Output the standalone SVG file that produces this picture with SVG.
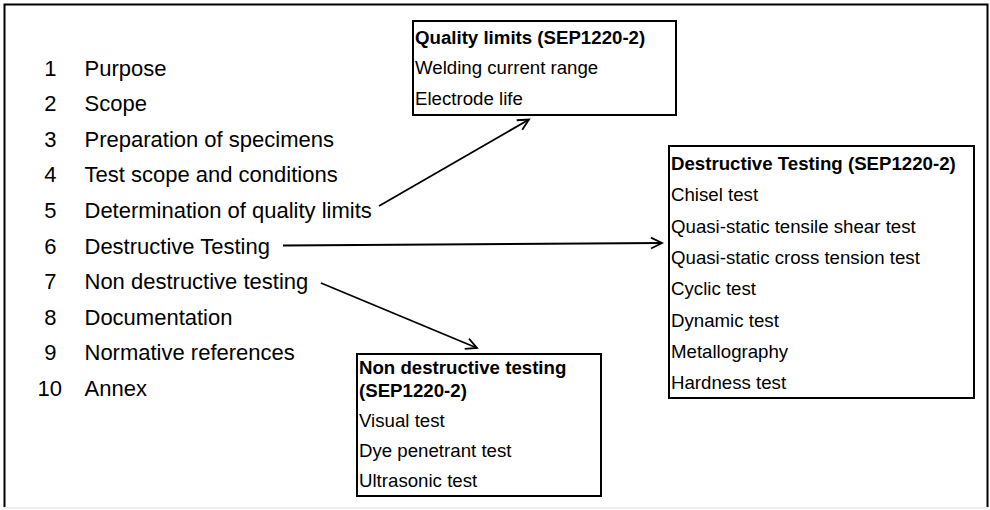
<svg xmlns="http://www.w3.org/2000/svg" width="990" height="510" viewBox="0 0 990 510">
<defs>
<style>
.lst{font-family:"Liberation Sans",Arial,sans-serif;font-size:22px;fill:#000}
.bx{font-family:"Liberation Sans",Arial,sans-serif;font-size:18.67px;fill:#000}
.bt{font-weight:bold}
.box{fill:#fff;stroke:#000;stroke-width:2}
.con{stroke:#000;stroke-width:1.8;fill:none;marker-end:url(#arr)}
</style>
<marker id="arr" markerWidth="16" markerHeight="14" refX="13" refY="7" orient="auto" markerUnits="userSpaceOnUse">
<path d="M2,1.5 L13,7 L2,12.5" fill="none" stroke="#000" stroke-width="1.8"/>
</marker>
</defs>
<rect width="990" height="510" fill="#fff"/>
<path d="M4.5,507 V4.5 H987.5 V507" fill="none" stroke="#000" stroke-width="2"/>
<line x1="4" y1="508" x2="988" y2="508" stroke="#ddd" stroke-width="1"/>

<g id="toc" class="lst">
<text x="44.3" y="75.5">1</text><text x="84.5" y="75.5">Purpose</text>
<text x="44.3" y="111.1">2</text><text x="84.5" y="111.1">Scope</text>
<text x="44.3" y="146.7">3</text><text x="84.5" y="146.7">Preparation of specimens</text>
<text x="44.3" y="182.3">4</text><text x="84.5" y="182.3">Test scope and conditions</text>
<text x="44.3" y="217.9">5</text><text x="84.5" y="217.9">Determination of quality limits</text>
<text x="44.3" y="253.5">6</text><text x="84.5" y="253.5">Destructive Testing</text>
<text x="44.3" y="289.1">7</text><text x="84.5" y="289.1">Non destructive testing</text>
<text x="44.3" y="324.7">8</text><text x="84.5" y="324.7">Documentation</text>
<text x="44.3" y="360.3">9</text><text x="84.5" y="360.3">Normative references</text>
<text x="37.5" y="395.9">10</text><text x="84.5" y="395.9">Annex</text>
</g>

<g id="quality">
<rect class="box" x="413" y="21" width="263" height="94"/>
<text class="bx bt" x="415" y="43.5">Quality limits (SEP1220-2)</text>
<text class="bx" x="415" y="74">Welding current range</text>
<text class="bx" x="415" y="104.5">Electrode life</text>
</g>

<g id="destructive">
<rect class="box" x="669" y="146" width="305" height="252"/>
<text class="bx bt" x="671" y="170">Destructive Testing (SEP1220-2)</text>
<text class="bx" x="671" y="201.3">Chisel test</text>
<text class="bx" x="671" y="232.6">Quasi-static tensile shear test</text>
<text class="bx" x="671" y="263.9">Quasi-static cross tension test</text>
<text class="bx" x="671" y="295.2">Cyclic test</text>
<text class="bx" x="671" y="326.5">Dynamic test</text>
<text class="bx" x="671" y="357.8">Metallography</text>
<text class="bx" x="671" y="389">Hardness test</text>
</g>

<g id="nondestructive">
<rect class="box" x="357" y="354" width="244" height="142"/>
<text class="bx bt" x="359" y="374">Non destructive testing</text>
<text class="bx bt" x="359" y="397">(SEP1220-2)</text>
<text class="bx" x="359" y="427">Visual test</text>
<text class="bx" x="359" y="457">Dye penetrant test</text>
<text class="bx" x="359" y="487">Ultrasonic test</text>
</g>

<g id="connectors">
<line class="con" x1="379" y1="206" x2="529" y2="119.5"/>
<line class="con" x1="283" y1="245.5" x2="662" y2="243"/>
<line class="con" x1="321" y1="283" x2="477" y2="348"/>
</g>
</svg>
